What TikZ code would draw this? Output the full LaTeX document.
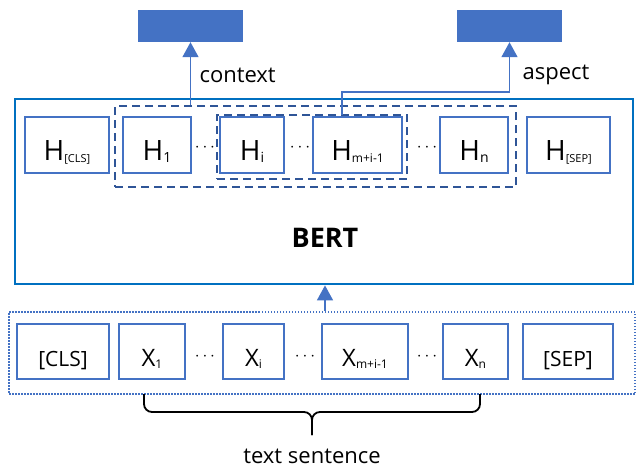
\documentclass[tikz,border=0pt]{standalone}
\usepackage{fontspec}
\setmainfont{Open Sans}
\usetikzlibrary{arrows.meta}

\definecolor{boxblue}{HTML}{4472C4}
\definecolor{bertblue}{HTML}{0070C0}
\definecolor{darkblue}{HTML}{2F5597}

% lowered index after H and X
\newcommand{\hsub}[2][14]{\raisebox{-2pt}{\fontsize{#1}{#1}\selectfont #2}}
\newcommand{\xsub}[1]{\raisebox{-2pt}{\fontsize{12}{12}\selectfont #1}}

\tikzset{
  hbox/.style={draw=boxblue, line width=1.8pt, minimum height=56pt, inner sep=0pt,
    text height=34pt, text depth=4pt, font=\fontsize{28}{30}\selectfont},
  xbox/.style={draw=boxblue, line width=1.8pt, minimum height=55pt, inner sep=0pt,
    text height=31pt, text depth=2pt, font=\fontsize{24}{26}\selectfont},
  outbox/.style={fill=boxblue, minimum width=105pt, minimum height=32pt, inner sep=0pt},
  group/.style={draw=darkblue, line width=2.8pt, dash pattern=on 8pt off 5pt, inner sep=0pt},
  dotsep/.style={font=\fontsize{18}{18}\selectfont},
  arr/.style={draw=boxblue, line width=1.6pt, -{Triangle[width=16pt,length=15pt]}},
  lbl/.style={font=\fontsize{22}{26}\selectfont},
  brace/.style={line width=1.8pt, rounded corners=8pt}
}

\begin{document}
\begin{tikzpicture}[x=1pt,y=-1pt]
\useasboundingbox (0,0) rectangle (637,469);

% outputs
\node[outbox] (ctxout) at (190.5,26) {};
\node[outbox] (aspout) at (509.5,26) {};

% BERT encoder
\node[draw=bertblue, line width=2.8pt, minimum width=618pt, minimum height=185pt,
  inner sep=0pt] (bert) at (324,191.5) {};
\node[font=\bfseries\fontsize{27}{30}\selectfont] (bertlbl) at (325,237.5) {BERT};

% hidden states
\node[hbox, minimum width=84pt] (hcls) at (67,145) {H\hsub[11]{[CLS]}};
\node[hbox, minimum width=68pt] (h1) at (157,145) {H\hsub{1}};
\node[hbox, minimum width=64pt] (hi) at (252,145) {H\hsub{i}};
\node[hbox, minimum width=89pt] (hm) at (357.5,145) {H\hsub[12]{m+i-1}};
\node[hbox, minimum width=68pt] (hn) at (474,145) {H\hsub{n}};
\node[hbox, minimum width=83pt] (hsep) at (568.5,145) {H\hsub[11]{[SEP]}};
\node[dotsep] (hd1) at (205,148) {$\cdots$};
\node[dotsep] (hd2) at (300,148) {$\cdots$};
\node[dotsep] (hd3) at (427,148) {$\cdots$};

\node[group, minimum width=401pt, minimum height=81pt] (outer) at (315.5,146.5) {};
\node[group, minimum width=190pt, minimum height=64pt] (inner) at (312,147) {};

% input tokens
\node[draw=boxblue, line width=2pt, dash pattern=on 1.5pt off 1.5pt, minimum width=626pt,
  minimum height=82pt, inner sep=0pt] (input) at (322,353) {};
\node[xbox, minimum width=92pt] (cls) at (63,351.5) {\fontsize{21}{22}\selectfont [CLS]};
\node[xbox, minimum width=66pt] (x1) at (152,351.5) {X\xsub{1}};
\node[xbox, minimum width=61pt] (xi) at (253.5,351.5) {X\xsub{i}};
\node[xbox, minimum width=86pt] (xm) at (365,351.5) {X\xsub{m+i-1}};
\node[xbox, minimum width=65pt] (xn) at (475.5,351.5) {X\xsub{n}};
\node[xbox, minimum width=90pt] (sep) at (568,351.5) {\fontsize{21}{22}\selectfont [SEP]};
\node[dotsep] (xd1) at (205,357) {$\cdots$};
\node[dotsep] (xd2) at (305,357) {$\cdots$};
\node[dotsep] (xd3) at (427,357) {$\cdots$};

% connectors
\draw[arr] (input.north -| bertlbl) -- (bertlbl |- bert.south);
\draw[arr] (ctxout |- outer.north) -- (ctxout.south);
\coordinate (asptap) at (342,115);
\coordinate (aspbend) at (342,92);
\draw[arr] (asptap) -- (aspbend) -| (aspout.south);
\node[lbl, anchor=base west] (ctxlbl) at (196,82) {context};
\node[lbl, anchor=base west] (asplbl) at (519,79) {aspect};

% brace under the sentence
\coordinate (bracel) at (144,394);
\coordinate (bracer) at (480,394);
\coordinate (bracetip) at (312,435);
\draw[brace] (bracel) -- (144,412) -- (312,412) -- (bracetip);
\draw[brace] (bracer) -- (480,412) -- (312,412) -- (bracetip);
\node[lbl, anchor=base] (sentence) at (312,463) {text sentence};
\end{tikzpicture}
\end{document}
